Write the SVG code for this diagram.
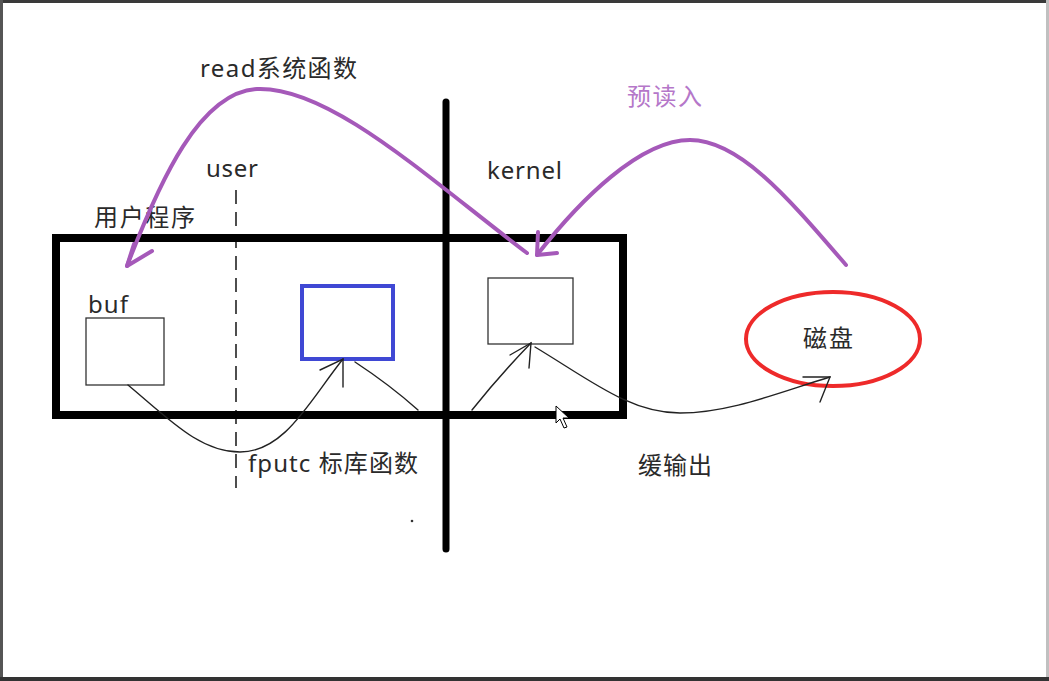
<svg xmlns="http://www.w3.org/2000/svg" width="1049" height="681" viewBox="0 0 1049 681">
<style>
.t{font-family:"Noto Sans","Noto Sans CJK SC",sans-serif;font-size:24px;fill:#2a2a2a}
.thick{fill:none;stroke:#000;stroke-width:8}
.box{fill:#fff;stroke:#333;stroke-width:1.3}
.thin{fill:none;stroke:#222;stroke-width:1.4;stroke-linecap:round}
.purple{fill:none;stroke:#a559b9;stroke-width:4;stroke-linecap:round;stroke-linejoin:round}
</style>
<rect x="0" y="0" width="1049" height="681" fill="#fff"/>
<g id="frame">
<rect x="0" y="0" width="1049" height="3" fill="#3a3a3a"/>
<rect x="0" y="0" width="3" height="681" fill="#555"/>
<rect x="1046" y="0" width="3" height="681" fill="#c0c0c0"/>
<rect x="0" y="677" width="1049" height="4" fill="#333"/>
</g>
<g id="divider">
<line x1="446" y1="102" x2="446" y2="549" stroke="#000" stroke-width="7" stroke-linecap="round"/>
<line x1="236" y1="190" x2="236" y2="488" stroke="#222" stroke-width="1.6" stroke-dasharray="14 8"/>
</g>
<g id="process">
<rect x="56" y="238" width="567" height="177" class="thick"/>
</g>
<g id="buf">
<rect x="86" y="318" width="78" height="67" class="box"/>
<text class="t" x="88" y="313" textLength="40">buf</text>
</g>
<g id="libbuf">
<rect x="302" y="286" width="91" height="73" fill="#fff" stroke="#3f48d4" stroke-width="4"/>
</g>
<g id="kernelbuf">
<rect x="488" y="278" width="85" height="66" class="box"/>
</g>
<g id="disk">
<ellipse cx="833" cy="339" rx="87" ry="47" fill="#fff" stroke="#ee2a2a" stroke-width="4"/>
<text class="t" x="803" y="347" textLength="50">磁盘</text>
</g>
<g id="labels">
<text class="t" x="200" y="77" textLength="157">read系统函数</text>
<text class="t" x="206" y="177" textLength="52">user</text>
<text class="t" x="487" y="179" textLength="75">kernel</text>
<text class="t" x="94" y="226" textLength="101">用户程序</text>
<text class="t" x="627" y="105" textLength="75" style="fill:#b577c9">预读入</text>
<text class="t" x="248" y="472" textLength="170">fputc 标库函数</text>
<text class="t" x="638" y="474" textLength="74">缓输出</text>
</g>
<g id="connectors">
<path class="purple" d="M527,253 C430,180 330,86 257,89 C200,92 160,180 127,266"/>
<polyline class="purple" points="152,251 127,266 134,244"/>
<path class="purple" d="M846,265 C790,200 740,140 690,140 C640,140 580,200 537,255"/>
<polyline class="purple" points="538,232 537,255 557,253"/>
<path class="thin" d="M128,385 C170,420 200,452 240,452 C285,452 310,400 343,359"/>
<polyline class="thin" points="320,370 343,359 343,387"/>
<path class="thin" d="M355,362 Q390,385 418,410"/>
<path class="thin" d="M472,410 Q500,375 531,343"/>
<polyline class="thin" points="510,355 531,343 529,368"/>
<path class="thin" d="M535,347 C590,380 630,413 680,413 C730,413 780,392 830,377"/>
<polyline class="thin" points="803,377 830,377 820,402"/>
</g>
<g id="cursor">
<polygon points="556,406 556,423 560,419 564,428 567,427 563,418 569,418" fill="#fff" stroke="#000" stroke-width="1"/>
</g>
<circle cx="412" cy="521" r="1.3" fill="#333"/>
</svg>
